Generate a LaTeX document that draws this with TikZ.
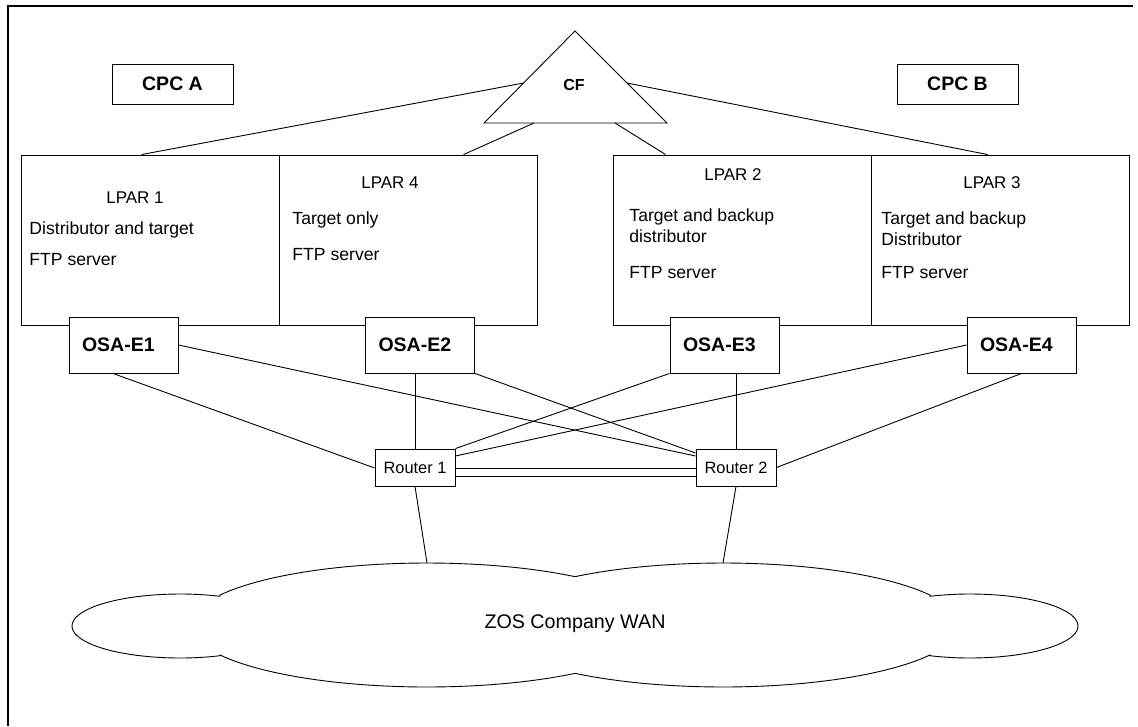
\documentclass[tikz,border=0pt]{standalone}
\usepackage{fontspec}
\setmainfont{Liberation Sans}
\begin{document}
\begin{tikzpicture}[x=1pt,y=-1pt,line width=0.9pt,
  lparbox/.style={draw,rectangle,inner sep=0pt,minimum width=258pt,minimum height=170pt},
  cpcbox/.style={draw,rectangle,inner sep=0pt,minimum width=121pt,minimum height=40pt,
    font=\bfseries\fontsize{19.5pt}{23pt}\selectfont},
  osabox/.style={draw,fill=white,rectangle,inner xsep=13pt,inner ysep=0pt,text width=83pt,
    minimum height=56pt,align=left,font=\bfseries\fontsize{19.5pt}{23pt}\selectfont},
  routerbox/.style={draw,fill=white,rectangle,inner sep=0pt,minimum width=80pt,minimum height=37pt,
    font=\fontsize{16.4pt}{20pt}\selectfont},
  title/.style={inner sep=0pt,anchor=base,font=\fontsize{17pt}{20pt}\selectfont},
  line/.style={inner sep=0pt,anchor=base west,font=\fontsize{17.6pt}{21pt}\selectfont}]
\useasboundingbox (0,0) rectangle (1138,726);

% page frame (top and left edges)
\draw[line width=1.5pt] (8,726) -- (8,6) -- (1133,6);

% CPC labels
\node[cpcbox] (cpca) at (172.5,84) {CPC A};
\node[cpcbox] (cpcb) at (957.5,84) {CPC B};

% coupling facility
\draw (575,31) -- (667,123) -- (484,123) -- cycle;
\node[inner sep=0pt,font=\bfseries\fontsize{16pt}{19pt}\selectfont] (cf) at (574,85) {CF};
\coordinate (cfL) at (523.6,83);
\coordinate (cfR) at (627,83);
\coordinate (cfB1) at (534,123);
\coordinate (cfB2) at (615,123);

% logical partitions
\node[lparbox] (lpar1) at (150,240) {};
\node[lparbox] (lpar4) at (408,240) {};
\node[lparbox] (lpar2) at (742,240) {};
\node[lparbox] (lpar3) at (1000,240) {};

\node[title] (t1) at (135,203) {LPAR 1};
\node[line] (t1a) at (29,234) {Distributor and target};
\node[line] (t1b) at (29,265) {FTP server};

\node[title] (t4) at (390,188) {LPAR 4};
\node[line] (t4a) at (292,224) {Target only};
\node[line] (t4b) at (292,260) {FTP server};

\node[title] (t2) at (733,180) {LPAR 2};
\node[line] (t2a) at (629,221) {Target and backup};
\node[line] (t2b) at (629,242) {distributor};
\node[line] (t2c) at (629,278) {FTP server};

\node[title] (t3) at (992,188) {LPAR 3};
\node[line] (t3a) at (881,224) {Target and backup};
\node[line] (t3b) at (881,245) {Distributor};
\node[line] (t3c) at (881,278) {FTP server};

% CF links
\draw (cfL) -- ([xshift=121pt]lpar1.north west);
\draw (cfB1) -- ([xshift=185pt]lpar4.north west);
\draw (cfB2) -- ([xshift=53pt]lpar2.north west);
\draw (cfR) -- ([xshift=117pt]lpar3.north west);

% OSA-Express adapters
\node[osabox] (osa1) at (123.5,345) {OSA-E1};
\node[osabox] (osa2) at (420,345) {OSA-E2};
\node[osabox] (osa3) at (724.5,345) {OSA-E3};
\node[osabox] (osa4) at (1021.5,345) {OSA-E4};

% routers
\node[routerbox] (r1) at (415,467.5) {Router 1};
\node[routerbox] (r2) at (736,467.5) {Router 2};

% adapter to router links
\draw ([xshift=-10.5pt]osa1.south) -- ([yshift=-0.5pt]r1.west);
\draw (osa1.east) -- ([yshift=11.5pt]r2.west);
\draw (r1.north) -- (r1.north |- osa2.south);
\draw (osa2.south east) -- ([yshift=14.5pt]r2.west);
\draw (osa3.south west) -- (r1.north east);
\draw (r2.north) -- (r2.north |- osa3.south);
\draw (osa4.west) -- ([yshift=11.5pt]r1.east);
\draw (osa4.south) -- (r2.east);

% router interconnect
\draw ([yshift=-0.5pt]r1.east) -- ([yshift=-0.5pt]r2.west);
\draw ([yshift=-8.5pt]r1.east) -- ([yshift=-8.5pt]r2.west);

% WAN cloud
\draw plot[domain=-151.1:-51.2,samples=40] ({427+236.5*cos(\x)},{625+62*sin(\x)})
  -- plot[domain=-128.8:-28.9,samples=40] ({723+236.5*cos(\x)},{625+62*sin(\x)})
  -- plot[domain=-111.7:111.7,samples=60] ({970+108*cos(\x)},{626+32*sin(\x)})
  -- plot[domain=28.9:128.8,samples=40] ({723+236.5*cos(\x)},{625+62*sin(\x)})
  -- plot[domain=51.2:151.1,samples=40] ({427+236.5*cos(\x)},{625+62*sin(\x)})
  -- plot[domain=68.3:291.7,samples=60] ({180+108*cos(\x)},{626+32*sin(\x)}) -- cycle;
\node[inner sep=0pt,font=\fontsize{19.7pt}{23pt}\selectfont] (wan) at (575,624) {ZOS Company WAN};
\coordinate (wan1) at (427,563);
\coordinate (wan2) at (723,563);

\draw (r1.south) -- (wan1);
\draw (r2.south) -- (wan2);
\end{tikzpicture}
\end{document}
